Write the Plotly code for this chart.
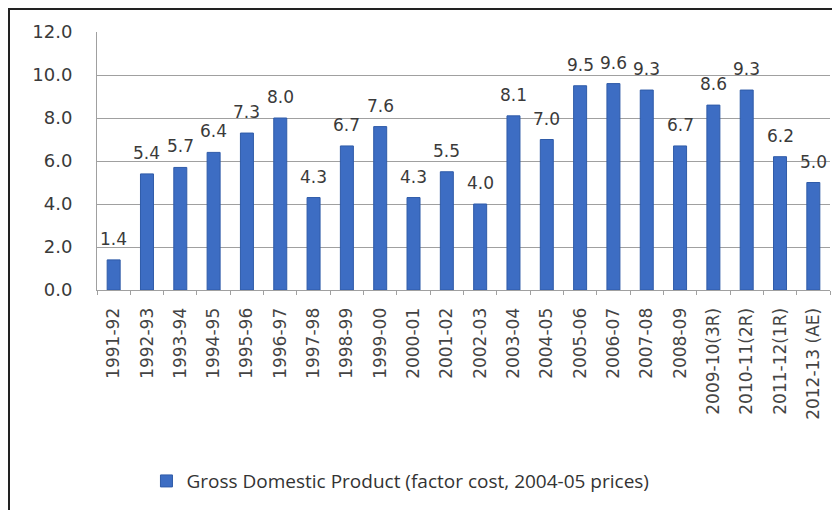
import plotly.graph_objects as go

categories = ["1991-92", "1992-93", "1993-94", "1994-95", "1995-96", "1996-97", "1997-98",
              "1998-99", "1999-00", "2000-01", "2001-02", "2002-03", "2003-04", "2004-05",
              "2005-06", "2006-07", "2007-08", "2008-09", "2009-10(3R)", "2010-11(2R)",
              "2011-12(1R)", "2012-13 (AE)"]
gdp_growth = [1.4, 5.4, 5.7, 6.4, 7.3, 8.0, 4.3, 6.7, 7.6, 4.3, 5.5, 4.0, 8.1, 7.0,
              9.5, 9.6, 9.3, 6.7, 8.6, 9.3, 6.2, 5.0]
y_ticks = [0, 2, 4, 6, 8, 10, 12]
series_name = "Gross Domestic Product (factor cost, 2004-05 prices)"

# page body has an 8px margin, so the figure is a bit smaller and offset
W, H = 832, 502
L, R, T, B = 89, 10, 24, 220

fig = go.Figure()
fig.add_trace(go.Bar(
    x=categories, y=gdp_growth, name=series_name,
    marker=dict(color="#3d6dc3", line=dict(color="#2f5ba8", width=1)),
    cliponaxis=False, showlegend=True,
))

# data labels placed above the bars, like the spreadsheet's labels
for cat, val in zip(categories, gdp_growth):
    fig.add_annotation(x=cat, y=val, xref="x", yref="y", text=f"{val:.1f}",
                       showarrow=False, yanchor="bottom", yshift=9,
                       font=dict(family="DejaVu Sans", size=17, color="#3a3a3a"))

def px_to_paper_x(px):
    return (px - L) / (W - L - R)

def px_to_paper_y(py):
    return (H - B - py) / (H - T - B)

fig.add_shape(type="line", xref="paper", yref="paper",
              x0=px_to_paper_x(0), x1=px_to_paper_x(W + 2), y0=px_to_paper_y(1), y1=px_to_paper_y(1),
              line=dict(color="#222222", width=2))
fig.add_shape(type="line", xref="paper", yref="paper",
              x0=px_to_paper_x(1), x1=px_to_paper_x(1), y0=px_to_paper_y(0), y1=px_to_paper_y(H + 2),
              line=dict(color="#222222", width=2))

fig.update_layout(
    width=W, height=H,
    margin=dict(l=L, r=R, t=T, b=B),
    paper_bgcolor="white", plot_bgcolor="white",
    bargap=0.61,
    font=dict(family="DejaVu Sans", color="#3a3a3a"),
    xaxis=dict(type="category", tickangle=-90, automargin=False,
               tickfont=dict(family="DejaVu Sans", size=17, color="#444444"),
               showline=True, linecolor="#a0a0a0", ticks="outside", ticklen=4, tickcolor="#a0a0a0",
               tickson="boundaries", showgrid=False, ticklabelstandoff=10),
    yaxis=dict(range=[0, 12], tickvals=y_ticks, ticktext=[f"{v:.1f}" for v in y_ticks],
               automargin=False,
               tickfont=dict(family="DejaVu Sans", size=18, color="#3a3a3a"),
               showgrid=True, gridcolor="#a0a0a0", gridwidth=1, showline=True, linecolor="#a0a0a0",
               zeroline=False, ticklabelstandoff=20),
    legend=dict(orientation="h", x=0.414, xanchor="center", y=-0.667, yanchor="top",
                font=dict(family="Open Sans", size=19, color="#333333")),
)

fig.write_html("out.html")
